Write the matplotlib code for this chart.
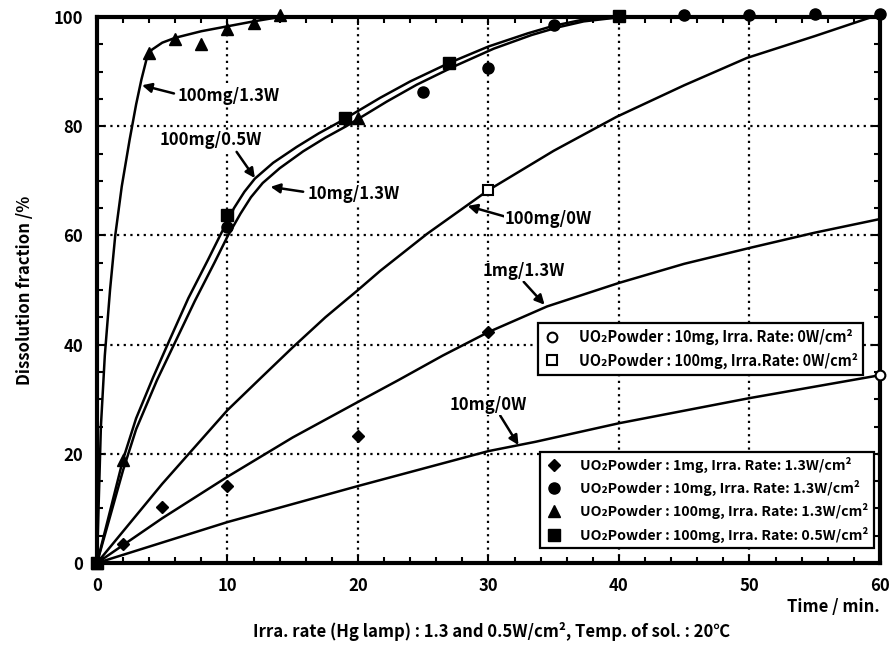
import numpy as np
import matplotlib
matplotlib.use("Agg")
import matplotlib.pyplot as plt
from matplotlib.lines import Line2D
from matplotlib.ticker import MultipleLocator

plt.rcParams['font.family'] = ['Noto Sans CJK JP', 'DejaVu Sans']

# measured points
t_1mg = [0, 2, 5, 10, 20, 30]
f_1mg = [0, 3.5, 10.3, 14.1, 23.3, 42.3]
t_10mg = [0, 10, 25, 30, 35, 45, 50, 55, 60]
f_10mg = [0, 61.5, 86.3, 90.7, 98.5, 100.4, 100.4, 100.5, 100.5]
t_100mg = [0, 2, 4, 6, 8, 10, 12, 14, 20]
f_100mg = [0, 18.8, 93.5, 96, 95, 97.8, 98.9, 100.3, 81.5]
t_100mg05 = [0, 10, 19, 27, 40]
f_100mg05 = [0, 63.7, 81.5, 91.6, 100.2]
t_10mg0 = [0, 60]
f_10mg0 = [0, 34.4]
t_100mg0 = [0, 30]
f_100mg0 = [0, 68.3]

# fitted curves
c100_13_t = [0, 0.3, 0.6, 1.0, 1.4, 1.9, 2.5, 3.0, 3.4, 3.8, 4.2, 5, 6, 8, 10, 12, 14, 60]
c100_13_f = [0, 25, 38, 50, 60, 69, 77.5, 84, 88.5, 92.3, 94, 95.3, 96.2, 97.4, 98.3, 99.2, 100, 100]
c100_05_t = [0, 1, 2, 3, 4.3, 5.5, 7, 8.5, 9.5, 10.5, 11.3, 12.1, 13.5, 15.3, 17, 18.6,
             21.7, 24, 27, 30, 33, 35, 37, 40, 60]
c100_05_f = [0, 9.5, 19, 26.5, 34, 40.5, 48.5, 55.5, 60.3, 65, 68, 70.4, 73.3, 76.2, 78.7, 80.8,
             85.2, 88.2, 91.6, 94.6, 97, 98.4, 99.4, 100, 100]
c10_13_t = [0, 1, 2, 3, 4.6, 6, 7.5, 9, 10, 11, 11.8, 12.7, 14, 15.8, 17.5, 19.1,
            22.2, 24.5, 27.5, 30.4, 33.3, 35.3, 37.3, 40.2, 60]
c10_13_f = [0, 8.5, 17, 24.5, 33.5, 40.5, 48, 55, 59.8, 64, 67, 69.6, 72.3, 75.4, 77.9, 80,
            84.5, 87.6, 91.1, 94.2, 96.7, 98.1, 99.2, 100, 100]
c100_0_t = [0, 5, 10, 12.6, 15, 17.5, 20, 21.7, 25.3, 30, 35, 39.8, 45, 49.8, 55, 60]
c100_0_f = [0, 14.5, 28, 34, 39.5, 45, 50, 53.5, 60.3, 68.3, 75.5, 81.7, 87.5, 92.5, 96.5, 100.5]
c1_13_t = [0, 5, 10, 15, 20, 23.1, 26.5, 30, 34.5, 40, 45, 50, 55, 60]
c1_13_f = [0, 8.2, 15.8, 23, 29.5, 33.5, 38, 42.3, 47, 51.3, 54.8, 57.7, 60.5, 63]
c10_0_t = [0, 10, 20, 30, 33.6, 40, 50, 60]
c10_0_f = [0, 7.5, 14.1, 20.5, 22.2, 25.6, 30.2, 34.4]

fig = plt.figure(figsize=(8.93, 6.47), dpi=100)
ax = fig.add_axes([0.1086, 0.1298, 0.8768, 0.8439])

for tt, ff in [(c100_13_t, c100_13_f), (c100_05_t, c100_05_f), (c10_13_t, c10_13_f),
               (c100_0_t, c100_0_f), (c1_13_t, c1_13_f), (c10_0_t, c10_0_f)]:
    ax.plot(tt, ff, color='black', lw=1.8, clip_on=False, zorder=3, solid_joinstyle='round')

ms = 7
ax.plot(t_10mg0, f_10mg0, 'o', mfc='white', mec='black', mew=1.5, ms=ms, clip_on=False, zorder=4)
ax.plot(t_100mg0, f_100mg0, 's', mfc='white', mec='black', mew=1.5, ms=ms, clip_on=False, zorder=4)
ax.plot(t_1mg, f_1mg, 'D', color='black', ms=6, clip_on=False, zorder=4)
ax.plot(t_10mg, f_10mg, 'o', color='black', ms=ms + 1, clip_on=False, zorder=4)
ax.plot(t_100mg, f_100mg, '^', color='black', ms=ms + 1, clip_on=False, zorder=4)
ax.plot(t_100mg05, f_100mg05, 's', color='black', ms=ms + 1, clip_on=False, zorder=4)

ax.set_xlim(0, 60)
ax.set_ylim(0, 100)
ax.xaxis.set_major_locator(MultipleLocator(10))
ax.xaxis.set_minor_locator(MultipleLocator(2))
ax.yaxis.set_major_locator(MultipleLocator(20))
ax.yaxis.set_minor_locator(MultipleLocator(5))
ax.tick_params(which='both', direction='in', top=True, right=True, width=1.5)
ax.tick_params(which='major', length=6, labelsize=12, pad=10)
ax.tick_params(which='minor', length=4)
for lab in ax.get_xticklabels() + ax.get_yticklabels():
    lab.set_fontweight('bold')
for sp in ax.spines.values():
    sp.set_linewidth(3)
ax.grid(True, which='major', color='black', ls=(0, (1, 2)), lw=1.6)
ax.set_axisbelow(True)

ax.set_ylabel('Dissolution fraction /%', fontsize=12, fontweight='bold', labelpad=14)
fig.text(0.985, 0.048, 'Time / min.', ha='right', va='bottom', fontsize=12, fontweight='bold')
fig.text(0.55, 0.010, 'Irra. rate (Hg lamp) : 1.3 and 0.5W/cm², Temp. of sol. : 20℃',
         ha='center', va='bottom', fontsize=12, fontweight='bold')

arrow = dict(arrowstyle='-|>', color='black', lw=1.8, mutation_scale=14, shrinkA=0, shrinkB=0)
notes = [
    ((3.45, 87.5), (5.9, 86.0)),
    ((12.1, 70.5), (10.7, 75.3)),
    ((13.3, 68.9), (15.8, 68.0)),
    ((28.4, 65.4), (31.2, 63.5)),
    ((34.3, 47.3), (32.7, 51.5)),
    ((32.3, 21.6), (30.9, 27.0)),
]
for head, tail in notes:
    ax.annotate('', xy=head, xytext=tail, arrowprops=arrow, zorder=5)
for txt, pos in [('100mg/1.3W', (10.1, 85.6)), ('100mg/0.5W', (8.7, 77.4)),
                 ('10mg/1.3W', (19.7, 67.6)), ('100mg/0W', (34.6, 63.0)),
                 ('1mg/1.3W', (32.7, 53.4)), ('10mg/0W', (30.0, 28.9))]:
    ax.text(pos[0], pos[1], txt, ha='center', va='center', fontsize=12, fontweight='bold',
            bbox=dict(fc='white', ec='none', pad=0.5), zorder=6)

h1 = [Line2D([], [], ls='', marker='o', mfc='white', mec='black', mew=1.5, ms=ms),
      Line2D([], [], ls='', marker='s', mfc='white', mec='black', mew=1.5, ms=ms)]
l1 = ['UO₂Powder : 10mg, Irra. Rate: 0W/cm²', 'UO₂Powder : 100mg, Irra.Rate: 0W/cm²']
h2 = [Line2D([], [], ls='', marker='D', color='black', ms=6),
      Line2D([], [], ls='', marker='o', color='black', ms=ms + 1),
      Line2D([], [], ls='', marker='^', color='black', ms=ms + 1),
      Line2D([], [], ls='', marker='s', color='black', ms=ms + 1)]
l2 = ['UO₂Powder : 1mg, Irra. Rate: 1.3W/cm²', 'UO₂Powder : 10mg, Irra. Rate: 1.3W/cm²',
      'UO₂Powder : 100mg, Irra. Rate: 1.3W/cm²', 'UO₂Powder : 100mg, Irra. Rate: 0.5W/cm²']

legkw = dict(frameon=True, fancybox=False, edgecolor='black', framealpha=1,
             handletextpad=1.2, borderaxespad=0, labelspacing=0.5, handlelength=1.2)
leg1 = ax.legend(h1, l1, loc='upper left', bbox_to_anchor=(0.563, 0.44),
                 prop={'size': 10.5, 'weight': 'bold'}, **legkw)
leg1.get_frame().set_linewidth(1.6)
ax.add_artist(leg1)
leg2 = ax.legend(h2, l2, loc='lower left', bbox_to_anchor=(0.566, 0.027),
                 prop={'size': 10.2, 'weight': 'bold'}, **legkw)
leg2.get_frame().set_linewidth(1.6)
for lg in (leg1, leg2):
    lg.set_zorder(7)

fig.savefig('out.png', dpi=100)
